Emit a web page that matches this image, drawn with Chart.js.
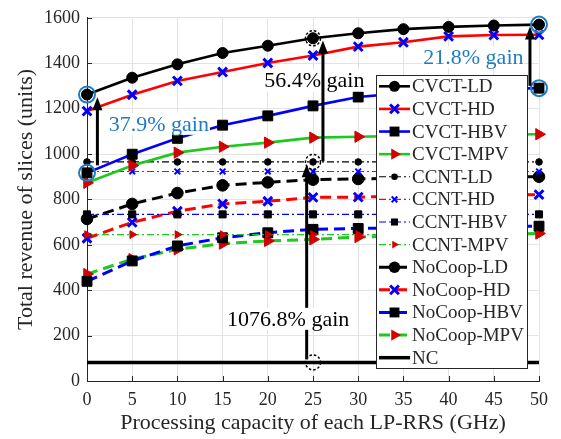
<!DOCTYPE html>
<html><head><meta charset="utf-8">
<script src="https://cdn.jsdelivr.net/npm/chart.js@4.4.0/dist/chart.umd.min.js"></script>
<style>html,body{margin:0;padding:0;background:#fff;overflow:hidden}#wrap{width:561px;height:439px}</style>
</head><body><div id="wrap"><canvas id="c" width="561" height="439"></canvas></div>
<script>
// ---- data ----
const capacity = [0, 5, 10, 15, 20, 25, 30, 35, 40, 45, 50];
const cvctLD  = [1262, 1336, 1395, 1445, 1477, 1510, 1532, 1550, 1560, 1566, 1570];
const cvctHD  = [1189, 1261, 1322, 1361, 1401, 1434, 1473, 1492, 1518, 1524, 1525];
const cvctHBV = [917, 999, 1069, 1127, 1168, 1212, 1251, 1268, 1278, 1285, 1290];
const cvctMPV = [873, 949, 1006, 1032, 1050, 1072, 1076, 1080, 1083, 1085, 1087];
const ccntLD  = [965, 965, 965, 965, 965, 965, 965, 965, 965, 965, 965];
const ccntHD  = [923, 923, 923, 923, 923, 923, 923, 923, 923, 923, 923];
const ccntHBV = [734, 734, 734, 734, 734, 734, 734, 734, 734, 734, 734];
const ccntMPV = [645, 645, 645, 645, 645, 645, 645, 645, 645, 645, 645];
const nocoopLD  = [714, 780, 828, 862, 875, 887, 890, 894, 897, 899, 900];
const nocoopHD  = [629, 699, 748, 780, 792, 809, 810, 814, 817, 819, 821];
const nocoopHBV = [439, 529, 595, 631, 653, 668, 672, 675, 678, 680, 682];
const nocoopMPV = [471, 537, 580, 605, 617, 624, 634, 640, 644, 647, 650];
const ncRevenue = [82, 82, 82, 82, 82, 82, 82, 82, 82, 82, 82];
const xTicks = [0, 5, 10, 15, 20, 25, 30, 35, 40, 45, 50];
const yTicks = [0, 200, 400, 600, 800, 1000, 1200, 1400, 1600];

// annotations (data coordinates)
const gainTexts  = ['37.9% gain', '56.4% gain', '21.8% gain', '1076.8% gain'];
const gainTextX  = [2.4, 19.6, 37.2, 15.5];
const gainTextY  = [1133, 1324, 1425, 274];
const gainColor  = ['blue', 'black', 'blue', 'black'];
const arrowX     = [1.15, 26.1, 49.0, 24.3];
const arrowFrom  = [950, 968, 1300, 95];
const arrowTo    = [1250, 1500, 1562, 955];
const blueRingX  = [0, 0, 50, 50];
const blueRingY  = [1262, 917, 1570, 1290];
const dashRingX  = [25, 25, 25];
const dashRingY  = [1510, 965, 82];

// ---- styles ----
const BLACK = '#000000', RED = '#ff0000', BLUE = '#0000ff', GREEN = '#1ec81e', DRED = '#d20000', ANNBLUE = '#1f7bc2';
const DD = [7, 3, 2, 3];      // dash-dot
const DA = [11, 6];           // dashed
const SERIF = "'Liberation Serif','Times New Roman',serif";

const series = [
  {label:'CVCT-LD',  data:cvctLD,  line:BLACK, dash:[], w:2.6, ps:'circle',   pc:BLACK, pr:5.5, pb:1},
  {label:'CVCT-HD',  data:cvctHD,  line:RED,   dash:[], w:2.6, ps:'crossRot', pc:BLUE,  pr:6.2, pb:3},
  {label:'CVCT-HBV', data:cvctHBV, line:BLUE,  dash:[], w:2.6, ps:'rect',     pc:BLACK, pr:7,   pb:1},
  {label:'CVCT-MPV', data:cvctMPV, line:GREEN, dash:[], w:2.6, ps:'triangle', pc:DRED,  pr:6.5, pb:1, rot:90},
  {label:'CCNT-LD',  data:ccntLD,  line:BLACK, dash:DD, w:1.2, ps:'circle',   pc:BLACK, pr:3.3, pb:1},
  {label:'CCNT-HD',  data:ccntHD,  line:RED,   dash:DD, w:1.2, ps:'crossRot', pc:BLUE,  pr:4,   pb:2},
  {label:'CCNT-HBV', data:ccntHBV, line:BLUE,  dash:DD, w:1.2, ps:'rect',     pc:BLACK, pr:5,   pb:1},
  {label:'CCNT-MPV', data:ccntMPV, line:GREEN, dash:DD, w:1.2, ps:'triangle', pc:DRED,  pr:4.5, pb:1, rot:90},
  {label:'NoCoop-LD',  data:nocoopLD,  line:BLACK, dash:DA, w:3, ps:'circle',   pc:BLACK, pr:5.8, pb:1},
  {label:'NoCoop-HD',  data:nocoopHD,  line:RED,   dash:DA, w:3, ps:'crossRot', pc:BLUE,  pr:6.2, pb:3},
  {label:'NoCoop-HBV', data:nocoopHBV, line:BLUE,  dash:DA, w:3, ps:'rect',     pc:BLACK, pr:7,   pb:1},
  {label:'NoCoop-MPV', data:nocoopMPV, line:GREEN, dash:DA, w:3, ps:'triangle', pc:DRED,  pr:6.5, pb:1, rot:90},
  {label:'NC', data:ncRevenue, line:BLACK, dash:[], w:3.5, ps:false, pc:BLACK, pr:0, pb:0}
];

const datasets = series.map((s, i) => ({
  label: s.label,
  data: capacity.map((x, k) => ({x: x, y: s.data[k]})),
  borderColor: s.line, borderWidth: s.w, borderDash: s.dash,
  pointStyle: s.ps, pointRadius: s.pr, pointRotation: s.rot || 0,
  pointBackgroundColor: s.pc, pointBorderColor: s.pc, pointBorderWidth: s.pb,
  fill: false, tension: 0, order: i, clip: false
}));
datasets.push({
  label: '_rings',
  data: blueRingX.map((x, k) => ({x: x, y: blueRingY[k]})),
  showLine: false, pointStyle: 'circle', pointRadius: 8, clip: false,
  pointBackgroundColor: 'rgba(0,0,0,0)', pointBorderColor: ANNBLUE, pointBorderWidth: 2, order: -1
});

function marker(ctx, st, r, rot, x, y, col, bw) {
  ctx.save();
  ctx.fillStyle = col; ctx.strokeStyle = col; ctx.lineWidth = bw; ctx.setLineDash([]);
  ctx.beginPath();
  if (st === 'circle') { ctx.arc(x, y, r, 0, Math.PI * 2); ctx.fill(); }
  else if (st === 'rect') { const s = Math.SQRT1_2 * r; ctx.rect(x - s, y - s, 2 * s, 2 * s); ctx.fill(); }
  else if (st === 'triangle') {
    let a = (rot || 0) * Math.PI / 180;
    ctx.moveTo(x + Math.sin(a) * r, y - Math.cos(a) * r);
    a += 2 * Math.PI / 3; ctx.lineTo(x + Math.sin(a) * r, y - Math.cos(a) * r);
    a += 2 * Math.PI / 3; ctx.lineTo(x + Math.sin(a) * r, y - Math.cos(a) * r);
    ctx.closePath(); ctx.fill();
  } else if (st === 'crossRot') {
    const d = Math.SQRT1_2 * r;
    ctx.moveTo(x - d, y - d); ctx.lineTo(x + d, y + d);
    ctx.moveTo(x + d, y - d); ctx.lineTo(x - d, y + d); ctx.stroke();
  }
  ctx.restore();
}

const extras = {
  id: 'extras',
  afterDatasetsDraw(chart) {
    const ctx = chart.ctx, xs = chart.scales.x, ys = chart.scales.y, ca = chart.chartArea;
    // inward ticks
    ctx.save();
    ctx.strokeStyle = '#262626'; ctx.lineWidth = 1;
    xTicks.forEach(v => { const px = Math.round(xs.getPixelForValue(v)) + 0.5; ctx.beginPath(); ctx.moveTo(px, ca.bottom); ctx.lineTo(px, ca.bottom - 5); ctx.stroke(); });
    yTicks.forEach(v => { const py = Math.round(ys.getPixelForValue(v)) + 0.5; ctx.beginPath(); ctx.moveTo(ca.left, py); ctx.lineTo(ca.left + 5, py); ctx.stroke(); });
    ctx.restore();
    // dashed rings
    ctx.save();
    ctx.strokeStyle = BLACK; ctx.lineWidth = 1.5; ctx.setLineDash([2.5, 2]);
    dashRingX.forEach((x, k) => { ctx.beginPath(); ctx.arc(xs.getPixelForValue(x), ys.getPixelForValue(dashRingY[k]), 7.5, 0, Math.PI * 2); ctx.stroke(); });
    ctx.restore();
    const drawArrow = k => {
      const px = xs.getPixelForValue(arrowX[k]);
      const y0 = ys.getPixelForValue(arrowFrom[k]), y1 = ys.getPixelForValue(arrowTo[k]);
      ctx.save(); ctx.strokeStyle = BLACK; ctx.fillStyle = BLACK; ctx.lineWidth = 3; ctx.setLineDash([]);
      ctx.beginPath(); ctx.moveTo(px, y0); ctx.lineTo(px, y1 + 10); ctx.stroke();
      ctx.beginPath(); ctx.moveTo(px, y1); ctx.lineTo(px - 5, y1 + 13); ctx.lineTo(px + 5, y1 + 13); ctx.closePath(); ctx.fill();
      ctx.restore();
    };
    drawArrow(0); drawArrow(3);
    // gain texts
    ctx.save();
    ctx.font = '22px ' + SERIF; ctx.textBaseline = 'middle'; ctx.textAlign = 'left';
    gainTexts.forEach((t, k) => {
      const px = xs.getPixelForValue(gainTextX[k]), py = ys.getPixelForValue(gainTextY[k]);
      const w = ctx.measureText(t).width;
      ctx.fillStyle = '#ffffff'; ctx.fillRect(px - 1, py - 11, w + 2, 22);
      ctx.fillStyle = gainColor[k] === 'blue' ? ANNBLUE : BLACK;
      ctx.fillText(t, px, py + 1);
    });
    ctx.restore();
    drawArrow(1); drawArrow(2);
  },
  afterDraw(chart) {
    const ctx = chart.ctx;
    const L = 376, T = 75, R = 528, B = 369;
    const rowH = (B - T) / series.length;
    ctx.save();
    ctx.fillStyle = '#ffffff'; ctx.fillRect(L, T, R - L, B - T);
    ctx.strokeStyle = '#262626'; ctx.lineWidth = 1; ctx.strokeRect(L + 0.5, T + 0.5, R - L - 1, B - T - 1);
    ctx.font = '19px ' + SERIF; ctx.textBaseline = 'middle'; ctx.textAlign = 'left'; ctx.fillStyle = '#262626';
    series.forEach((s, i) => {
      const cy = T + rowH * (i + 0.5);
      ctx.save();
      ctx.strokeStyle = s.line; ctx.lineWidth = s.w; ctx.setLineDash(s.dash);
      ctx.beginPath(); ctx.moveTo(379, cy); ctx.lineTo(410, cy); ctx.stroke();
      ctx.restore();
      if (s.ps) marker(ctx, s.ps, s.pr, s.rot, 394.5, cy, s.pc, s.pb);
      ctx.fillStyle = '#262626';
      ctx.fillText(s.label, 412, cy + 1);
    });
    ctx.restore();
  }
};

new Chart(document.getElementById('c'), {
  type: 'line',
  data: { datasets: datasets },
  options: {
    responsive: false, animation: false, devicePixelRatio: 1,
    layout: { padding: { top: 15, right: 22, left: 0, bottom: 0 } },
    plugins: { legend: { display: false }, tooltip: { enabled: false } },
    elements: { line: { tension: 0 } },
    scales: {
      x: {
        type: 'linear', min: 0, max: 50,
        afterFit: s => { s.height = 58; },
        afterBuildTicks: s => { s.ticks = xTicks.map(v => ({value: v})); },
        grid: { color: '#e3e3e3', lineWidth: 1, drawTicks: false },
        border: { color: '#262626', width: 1 },
        ticks: { color: '#262626', font: { family: SERIF, size: 18 }, padding: 8, maxRotation: 0, callback: v => String(v) },
        title: { display: true, text: 'Processing capacity of each LP-RRS (GHz)', color: '#262626', font: { family: SERIF, size: 22 }, padding: { top: 0, bottom: 3 } }
      },
      y: {
        type: 'linear', min: 0, max: 1600,
        afterFit: s => { s.width = 87; },
        afterBuildTicks: s => { s.ticks = yTicks.map(v => ({value: v})); },
        grid: { color: '#e3e3e3', lineWidth: 1, drawTicks: false },
        border: { color: '#262626', width: 1 },
        ticks: { color: '#262626', font: { family: SERIF, size: 18 }, padding: 7, callback: v => String(v) },
        title: { display: true, text: 'Total revenue of slices (units)', color: '#262626', font: { family: SERIF, size: 22 }, padding: { top: 13, bottom: 0 } }
      }
    }
  },
  plugins: [extras]
});
</script>
</body></html>
